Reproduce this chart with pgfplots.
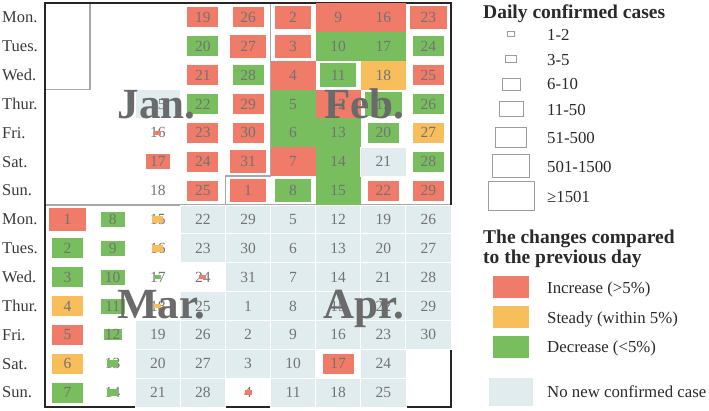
\documentclass[border=0pt]{standalone}
\usepackage{pgfplots}
\pgfplotsset{compat=1.18}
\usepackage{pgfplotstable}
\usepackage{fontspec}
\setmainfont{Liberation Serif}
\definecolor{cred}{HTML}{EF7B68}
\definecolor{corange}{HTML}{F8BE5C}
\definecolor{cgreen}{HTML}{78BE5F}
\definecolor{cblue}{HTML}{E1ECEF}
\definecolor{lgray}{HTML}{9C9C9C}
\definecolor{bgray}{HTML}{A8A8A8}
\definecolor{numc}{HTML}{737373}
\definecolor{dayc}{HTML}{3A3A3A}
\definecolor{monc}{HTML}{6A6A6A}
\definecolor{framec}{HTML}{2B2522}
\definecolor{legc}{HTML}{2A2A2A}
\newcommand\numfont{\fontsize{15.5}{17}\selectfont}
\newcommand\dayfont{\fontsize{16.5}{18}\selectfont}
\newcommand\monfont{\fontsize{43}{45}\selectfont\bfseries}
\newcommand\legtitle{\fontsize{19.5}{21}\selectfont\bfseries}
\newcommand\legfont{\fontsize{16.8}{18}\selectfont}
\pgfdeclareplotmark{nothing}{}
\newcommand\rectmark[4]{%
  \pgfdeclareplotmark{#1}{\pgfpathrectanglecorners{\pgfpoint{-#2}{-#3}}{\pgfpoint{#2}{#3}}#4}}
\rectmark{f1}{3.5pt}{2.25pt}{\pgfusepathqfill}
\rectmark{f2}{5.5pt}{3.75pt}{\pgfusepathqfill}
\rectmark{f3}{9pt}{5.5pt}{\pgfusepathqfill}
\rectmark{f4}{12pt}{7.5pt}{\pgfusepathqfill}
\rectmark{f5}{15.5pt}{10pt}{\pgfusepathqfill}
\rectmark{f6}{18.25pt}{11.75pt}{\pgfusepathqfill}
\rectmark{f7}{22.6pt}{14.45pt}{\pgfusepathqfill}
\rectmark{s7}{22.6pt}{14.45pt}{\pgfusepathqfillstroke}
\rectmark{f8}{18pt}{11pt}{\pgfusepathqfill}
\rectmark{f9}{22pt}{14pt}{\pgfusepathqfill}
\rectmark{l1}{3.5pt}{2.25pt}{\pgfusepathqfillstroke}
\rectmark{l2}{5.5pt}{3.75pt}{\pgfusepathqfillstroke}
\rectmark{l3}{9pt}{6pt}{\pgfusepathqfillstroke}
\rectmark{l4}{12pt}{7.5pt}{\pgfusepathqfillstroke}
\rectmark{l5}{15.5pt}{10pt}{\pgfusepathqfillstroke}
\rectmark{l6}{18.5pt}{11.5pt}{\pgfusepathqfillstroke}
\rectmark{l7}{23pt}{14.5pt}{\pgfusepathqfillstroke}
\pgfplotsset{
 cellclasses/.style={scatter, only marks, point meta=explicit symbolic,
   scatter/classes={
     r1={mark=f1,cred}, r4={mark=f4,cred}, r5={mark=f5,cred}, r6={mark=f6,cred}, r7={mark=f7,cred},
     g1={mark=f1,cgreen}, g2={mark=f2,cgreen}, g3={mark=f3,cgreen}, g4={mark=f4,cgreen},
     g5={mark=f5,cgreen}, g6={mark=f6,cgreen}, g7={mark=f7,cgreen},
     o1={mark=f1,corange}, o2={mark=f2,corange}, o5={mark=f5,corange}, o7={mark=f7,corange},
     b7={mark=s7,fill=cblue,draw=white,line width=0.8pt},
     n={mark=nothing},
     L1={mark=l1,fill=white,draw=lgray,line width=1pt},
     L2={mark=l2,fill=white,draw=lgray,line width=1pt},
     L3={mark=l3,fill=white,draw=lgray,line width=1pt},
     L4={mark=l4,fill=white,draw=lgray,line width=1pt},
     L5={mark=l5,fill=white,draw=lgray,line width=1pt},
     L6={mark=l6,fill=white,draw=lgray,line width=1pt},
     L7={mark=l7,fill=white,draw=lgray,line width=1pt},
     R8={mark=f8,cred}, O8={mark=f8,corange}, G8={mark=f8,cgreen}, B9={mark=f9,cblue}}},
 numbers/.style={draw=none, nodes near coords, point meta=explicit symbolic,
   every node near coord/.append style={anchor=center, font=\numfont, text=numc, inner sep=0pt}},
}
% x = column, y = row (0 = Mon. of the upper block); k = change class + size class of daily cases; d = date
\pgfplotstableread{
x y k d
2 3 b7 15
2 5 r4 17
2 6 n 18
3 0 r5 19
3 1 g5 20
3 2 r5 21
3 3 g5 22
3 4 r5 23
3 5 r5 24
3 6 r5 25
4 0 r5 26
4 1 r6 27
4 2 g5 28
4 3 r5 29
4 4 r5 30
4 5 r6 31
4 6 r6 1
5 0 r6 2
5 1 r6 3
5 2 r7 4
5 3 g7 5
5 4 g7 6
5 5 r7 7
5 6 g6 8
6 0 r7 9
6 1 g7 10
6 2 g6 11
6 3 r7 12
6 4 g7 13
6 5 g7 14
6 6 g7 15
7 0 r7 16
7 1 g7 17
7 2 o7 18
7 3 g6 19
7 4 g5 20
7 5 b7 21
7 6 r5 22
8 0 r6 23
8 1 g5 24
8 2 r5 25
8 3 g5 26
8 4 o5 27
8 5 g5 28
8 6 r5 29
0 7 r6 1
0 8 g5 2
0 9 g5 3
0 10 o5 4
0 11 r5 5
0 12 o5 6
0 13 g5 7
1 7 g4 8
1 8 g4 9
1 9 g4 10
1 10 g4 11
1 11 g3 12
2 11 b7 19
2 12 b7 20
2 13 b7 21
3 7 b7 22
3 8 b7 23
3 10 b7 25
3 11 b7 26
3 12 b7 27
3 13 b7 28
4 7 b7 29
4 8 b7 30
4 9 b7 31
4 10 b7 1
4 11 b7 2
4 12 b7 3
5 7 b7 5
5 8 b7 6
5 9 b7 7
5 10 b7 8
5 11 b7 9
5 12 b7 10
5 13 b7 11
6 7 b7 12
6 8 b7 13
6 9 b7 14
6 10 b7 15
6 11 b7 16
6 12 r5 17
6 13 b7 18
7 7 b7 19
7 8 b7 20
7 9 b7 21
7 10 b7 22
7 11 b7 23
7 12 b7 24
7 13 b7 25
8 7 b7 26
8 8 b7 27
8 9 b7 28
8 10 b7 29
8 11 b7 30
}\cells
% cells with very few cases (their small box is drawn over the date)
\pgfplotstableread{
x y k d
2 4 r1 16
1 12 g2 13
1 13 g2 14
2 7 o2 15
2 8 o2 16
2 9 g1 17
2 10 o1 18
3 9 r1 24
4 13 r1 4
}\fewcells
% legend swatches, in picture pixels
\pgfplotstableread{
x y k
511 34 L1
511 59 L2
511 84 L3
511 109 L4
511 137 L5
511 166 L6
511 196 L7
511 287 R8
511 317 O8
511 347 G8
511 392 B9
}\legdata
\begin{document}
\begin{tikzpicture}
\useasboundingbox (-45pt,-3pt) rectangle (664pt,407pt);
\begin{axis}[
  at={(0pt,0pt)}, anchor=south west,
  scale only axis, width=406pt, height=404pt,
  xmin=-0.5, xmax=8.5, ymin=-0.5, ymax=13.5, y dir=reverse,
  axis line style={line width=2.2pt, color=framec},
  axis on top,
  xtick=\empty,
  ytick={0,...,13},
  yticklabels={Mon.,Tues.,Wed.,Thur.,Fri.,Sat.,Sun.,Mon.,Tues.,Wed.,Thur.,Fri.,Sat.,Sun.},
  major tick length=0pt,
  yticklabel style={anchor=west, xshift=-43pt, inner xsep=0pt, font=\dayfont, text=dayc},
  clip=false,
]
\addplot[cellclasses] table[x=x, y=y, meta=k] {\cells};
\addplot[bgray, line width=1.3pt] coordinates {(0.5,-0.5) (0.5,2.5) (-0.5,2.5)};
\addplot[bgray, line width=1.3pt] coordinates {(4.5,-0.5) (4.5,5.5) (3.5,5.5) (3.5,6.5)};
\addplot[bgray, line width=1.3pt] coordinates {(-0.5,6.5) (8.5,6.5)};
\addplot[bgray, line width=1.3pt] coordinates {(4.5,6.5) (4.5,9.5) (3.5,9.5) (3.5,13.5)};
\addplot[bgray, line width=1.3pt] coordinates {(7.5,13.5) (7.5,11.5) (8.5,11.5)};
\addplot[numbers] table[x=x, y=y, meta=d] {\cells};
\addplot[numbers] table[x=x, y=y, meta=d] {\fewcells};
\addplot[cellclasses] table[x=x, y=y, meta=k] {\fewcells};
\end{axis}
\begin{axis}[
  at={(-45pt,-3pt)}, anchor=south west,
  scale only axis, width=709pt, height=410pt,
  xmin=0, xmax=709, ymin=0, ymax=410, y dir=reverse,
  hide axis, clip=false,
]
\addplot[cellclasses] table[x=x, y=y, meta=k] {\legdata};
\node[font=\monfont, text=monc, anchor=base] at (axis cs:156.5,118) {Jan.};
\node[font=\monfont, text=monc, anchor=base] at (axis cs:364.5,118) {Feb.};
\node[font=\monfont, text=monc, anchor=base] at (axis cs:161,318) {Mar.};
\node[font=\monfont, text=monc, anchor=base] at (axis cs:364,318) {Apr.};
\node[font=\legtitle, text=legc, anchor=base west, inner sep=0pt] at (axis cs:483,18) {Daily confirmed cases};
\node[font=\legfont, text=legc, anchor=base west, inner sep=0pt] at (axis cs:547,40) {1-2};
\node[font=\legfont, text=legc, anchor=base west, inner sep=0pt] at (axis cs:547,65) {3-5};
\node[font=\legfont, text=legc, anchor=base west, inner sep=0pt] at (axis cs:547,89.5) {6-10};
\node[font=\legfont, text=legc, anchor=base west, inner sep=0pt] at (axis cs:547,115) {11-50};
\node[font=\legfont, text=legc, anchor=base west, inner sep=0pt] at (axis cs:547,143) {51-500};
\node[font=\legfont, text=legc, anchor=base west, inner sep=0pt] at (axis cs:547,172) {501-1500};
\node[font=\legfont, text=legc, anchor=base west, inner sep=0pt] at (axis cs:547,202) {≥1501};
\node[font=\legtitle, text=legc, anchor=base west, inner sep=0pt] at (axis cs:483,243) {The changes compared};
\node[font=\legtitle, text=legc, anchor=base west, inner sep=0pt] at (axis cs:483,263.5) {to the previous day};
\node[font=\legfont, text=legc, anchor=base west, inner sep=0pt] at (axis cs:547,293) {Increase (>5\%)};
\node[font=\legfont, text=legc, anchor=base west, inner sep=0pt] at (axis cs:547,323) {Steady (within 5\%)};
\node[font=\legfont, text=legc, anchor=base west, inner sep=0pt] at (axis cs:547,352.5) {Decrease (<5\%)};
\node[font=\legfont, text=legc, anchor=base west, inner sep=0pt] at (axis cs:547,397) {No new confirmed case};
\end{axis}
\end{tikzpicture}
\end{document}
